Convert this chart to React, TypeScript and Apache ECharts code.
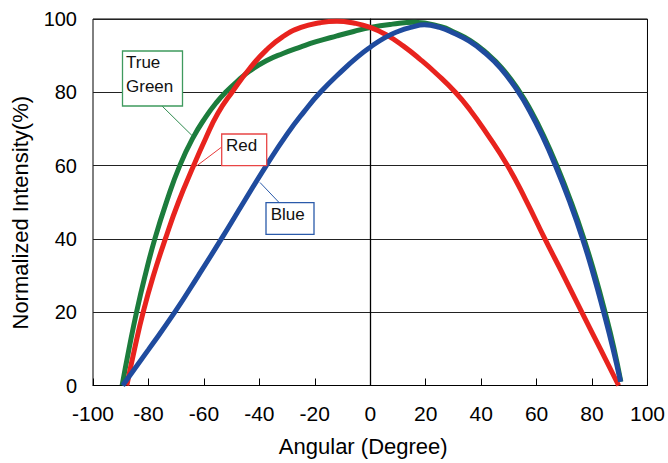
import React, { useEffect, useRef } from "react";
import * as echarts from "echarts";

const FONT = '"Liberation Sans", Arial, sans-serif';

const xTicks = [-100, -80, -60, -40, -20, 0, 20, 40, 60, 80, 100];
const yTicks = [0, 20, 40, 60, 80, 100];

const greenX = [-89.5, -87, -84.3, -81.2, -77.7, -73.4, -68.7, -64, -59.3, -55.5, -51.9, -47.5, -43.5, -37.5, -31.5, -25, -19.5, -12, -6, 0, 8, 16, 25.5, 30.5, 36.1, 41.5, 47.5, 54, 58, 62.5, 67.3, 72.5, 77.1, 81.1, 84.7, 87.8, 90.4];
const greenY = [0, 10, 20, 30, 40, 50.3, 60, 67.5, 73.3, 77.2, 80.2, 83.3, 85.8, 88.6, 90.6, 92.4, 93.8, 95.4, 96.6, 97.7, 98.6, 99.1, 97.9, 96.3, 94.1, 91.0, 86.6, 80, 74.9, 68.2, 60, 50, 40, 30, 20, 10.5, 1];

const redX = [-87.8, -85, -81.9, -78.2, -73.9, -69.2, -63.7, -59.5, -55, -49.6, -43.5, -37.5, -31.5, -25, -18, -12, -6, 0, 6, 12, 18, 24, 30.7, 36, 42, 49.5, 56, 63, 70, 76.3, 83, 89.6];
const redY = [0, 10, 20, 30, 40, 50, 60, 67.2, 74.2, 80.3, 86.5, 91.5, 95.2, 97.7, 99, 99.4, 98.9, 97.7, 95.6, 92.6, 89, 85, 80, 75.2, 68.8, 60, 50.8, 40, 29.6, 20, 10, 0];

const blueX = [-89.3, -80, -70.5, -62, -53.7, -45.5, -37.5, -30, -24, -18, -10, -4, 0, 5, 10, 15, 19.5, 25, 30, 35.6, 41, 47, 53.5, 57.5, 62, 66.8, 72, 76.6, 80.6, 84.2, 87.4, 90.3];
const blueY = [0, 9.8, 20, 30, 40, 50.2, 60, 68.6, 74.6, 80, 86, 90, 92.3, 94.8, 96.6, 97.8, 98.4, 97.7, 96.2, 94.0, 91.0, 86.6, 80, 74.9, 68.2, 60, 50, 40, 30, 20, 10.5, 1];

const seriesNames = ["True Green", "Red", "Blue"];
const seriesColors = ["#1c7c3c", "#e8231e", "#1f4b9e"];

const zip = (xs: number[], ys: number[]) => xs.map((x, i) => [x, ys[i]]);

export default function App() {
  const ref = useRef<HTMLDivElement>(null);
  useEffect(() => {
    if (!ref.current) return;
    const chart = echarts.init(ref.current, undefined, { renderer: "svg" });
    const datasets = [zip(greenX, greenY), zip(redX, redY), zip(blueX, blueY)];
    const series: any[] = datasets.map((d, i) => ({
      name: seriesNames[i],
      type: "line",
      data: d,
      showSymbol: false,
      smooth: 0.5,
      lineStyle: { width: 5, color: seriesColors[i] },
      itemStyle: { color: seriesColors[i] },
      z: 3 + i,
    }));
    series[0].markLine = {
      silent: true,
      symbol: ["none", "none"],
      label: { show: false },
      lineStyle: { color: "#000", width: 1.3, type: "solid" },
      data: [{ xAxis: 0 }],
      z: 2,
    };
    chart.setOption({
      animation: false,
      textStyle: { fontFamily: FONT },
      grid: {
        left: 93,
        right: 19,
        top: 19,
        bottom: 77.5,
        show: true,
        borderColor: "#000",
        borderWidth: 1,
        backgroundColor: "transparent",
      },
      xAxis: {
        type: "value",
        min: xTicks[0],
        max: xTicks[xTicks.length - 1],
        interval: 20,
        name: "Angular (Degree)",
        nameLocation: "middle",
        nameGap: 50,
        nameTextStyle: { fontSize: 22, color: "#000", fontFamily: FONT, padding: [0, 14, 0, 0] },
        axisLine: { show: true, onZero: false, lineStyle: { color: "#000", width: 1 } },
        axisTick: { show: true, inside: true, length: 7, lineStyle: { color: "#000", width: 1 } },
        axisLabel: { fontSize: 21, color: "#000", margin: 17, fontFamily: FONT },
        splitLine: { show: false },
      },
      yAxis: {
        type: "value",
        min: yTicks[0],
        max: yTicks[yTicks.length - 1],
        interval: 20,
        name: "Normalized Intensity(%)",
        nameLocation: "middle",
        nameGap: 62,
        nameTextStyle: { fontSize: 22, color: "#000", fontFamily: FONT, padding: [0, 21, 0, 0] },
        axisLine: { show: true, lineStyle: { color: "#000", width: 1 } },
        axisTick: { show: false },
        axisLabel: { fontSize: 20, color: "#000", margin: 16, fontFamily: FONT },
        splitLine: { show: true, lineStyle: { color: "#222", width: 1 } },
      },
      series,
      graphic: [
        { type: "line", shape: { x1: 160, y1: 104, x2: 192.5, y2: 136 }, style: { stroke: "#2e8b4e", lineWidth: 1 }, z: 10 },
        { type: "rect", shape: { x: 122.5, y: 51, width: 60, height: 55 }, style: { fill: "#fff", stroke: "#3f9a5e", lineWidth: 1.3 }, z: 10 },
        { type: "text", x: 126, y: 50, style: { text: "True\nGreen", font: `17px ${FONT}`, fill: "#111", lineHeight: 24, verticalAlign: "top", align: "left" }, z: 11 },
        { type: "line", shape: { x1: 221.7, y1: 147, x2: 196.5, y2: 166 }, style: { stroke: "#e83a3a", lineWidth: 1 }, z: 10 },
        { type: "rect", shape: { x: 221.7, y: 134, width: 45, height: 31.7 }, style: { fill: "#fff", stroke: "#e84545", lineWidth: 1.3 }, z: 10 },
        { type: "text", x: 226, y: 145.7, style: { text: "Red", font: `17px ${FONT}`, fill: "#111", verticalAlign: "middle", align: "left" }, z: 11 },
        { type: "line", shape: { x1: 280, y1: 203.5, x2: 260, y2: 182.5 }, style: { stroke: "#2a5aaa", lineWidth: 1 }, z: 10 },
        { type: "rect", shape: { x: 266, y: 202.7, width: 48, height: 31.6 }, style: { fill: "#fff", stroke: "#2a5aaa", lineWidth: 1.3 }, z: 10 },
        { type: "text", x: 270.7, y: 214.7, style: { text: "Blue", font: `17px ${FONT}`, fill: "#111", verticalAlign: "middle", align: "left" }, z: 11 },
      ],
    });
    return () => chart.dispose();
  }, []);
  return <div ref={ref} style={{ width: 668, height: 463, position: "absolute", left: 0, top: 0 }} />;
}
